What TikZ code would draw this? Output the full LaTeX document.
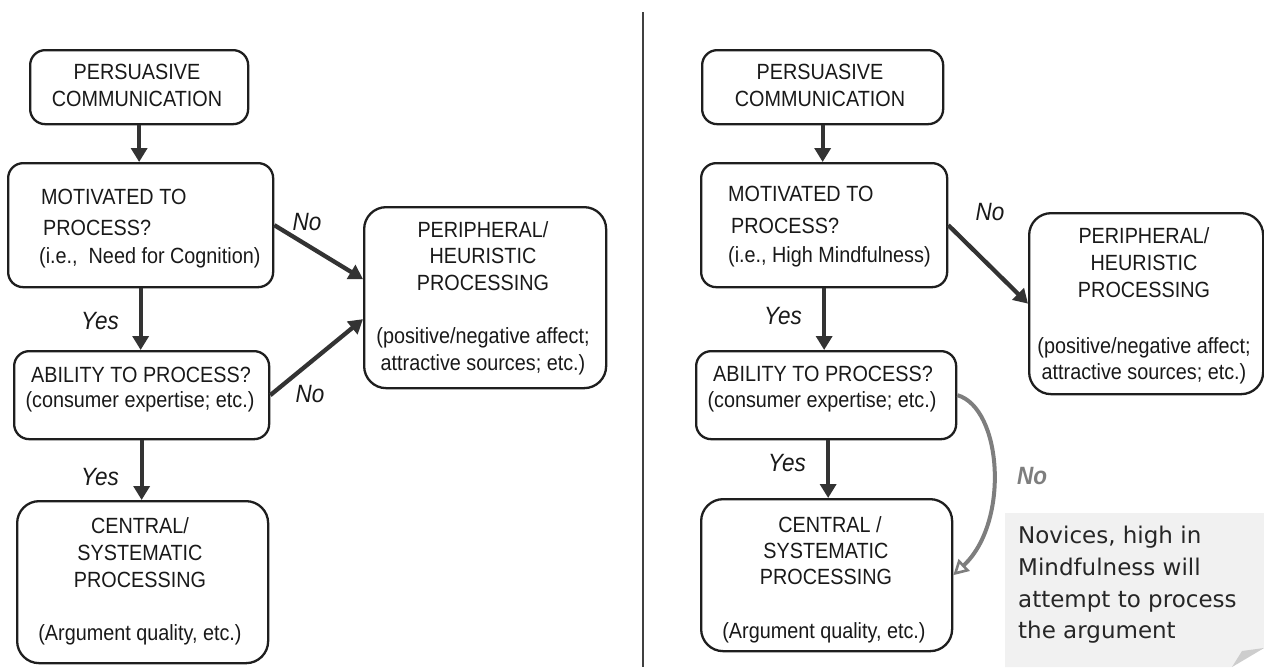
\documentclass[tikz,border=0pt]{standalone}
\usepackage{fontspec}
\setmainfont{Liberation Sans}[FakeStretch=0.9]
\newfontfamily\notefont{DejaVu Sans}
\usetikzlibrary{arrows.meta,calc}
\definecolor{boxline}{HTML}{1E1E1E}
\definecolor{arrcol}{HTML}{333333}
\definecolor{softgray}{HTML}{7E7E7E}
\definecolor{notefill}{HTML}{F1F1F1}
\definecolor{flapfill}{HTML}{CDCDCD}
\tikzset{
  box/.style={draw=boxline, line width=2.3pt, rounded corners=15pt, inner sep=0pt, anchor=north west},
  bigbox/.style={box, rounded corners=22pt},
  txt/.style={font=\fontsize{22}{26}\selectfont, inner sep=0pt, anchor=base, text=black!90},
  ltxt/.style={txt, anchor=base west},
  lab/.style={font=\fontsize{25}{28}\selectfont\itshape, inner sep=0pt, text=black!90},
  arr/.style={draw=arrcol, line width=4.3pt, -{Triangle[length=14pt,width=16pt]}},
  softarr/.style={draw=softgray, line width=4pt, -{Triangle[open,length=15pt,width=16pt,line width=2.6pt]}},
  notetxt/.style={font=\notefont\fontsize{23}{31}\selectfont, inner sep=0pt, anchor=base west, text=black!85}
}
\begin{document}
\begin{tikzpicture}[x=1pt,y=-1pt]
\useasboundingbox (0,0) rectangle (1264,667);
\fill[white] (0,0) rectangle (1264,667);

% divider between the two panels
\draw[draw=black!75, line width=2.6pt] (643,12) coordinate (dtop) -- (643,667) coordinate (dbot);

% ---------------- left panel ----------------
\node[box, minimum width=218pt, minimum height=74pt] (pl) at (29,49) {};
\node[box, minimum width=265pt, minimum height=124pt] (ml) at (7,162) {};
\node[bigbox, minimum width=242pt, minimum height=181pt] (ppl) at (363,206) {};
\node[box, minimum width=255pt, minimum height=88pt] (al) at (13,350) {};
\node[bigbox, minimum width=251pt, minimum height=162pt] (cl) at (16,500) {};

\node[txt] (pl1) at (137,79) {PERSUASIVE};
\node[txt] (pl2) at (137,106) {COMMUNICATION};

\node[ltxt] (ml1) at (41,204) {MOTIVATED TO};
\node[ltxt] (ml2) at (43,235) {PROCESS?};
\node[ltxt] (ml3) at (39,263) {(i.e.,\ \ Need for Cognition)};

\node[txt] (ppl1) at (483,237) {PERIPHERAL/};
\node[txt] (ppl2) at (483,263) {HEURISTIC};
\node[txt] (ppl3) at (483,290) {PROCESSING};
\node[txt] (ppl4) at (483,343) {(positive/negative affect;};
\node[txt] (ppl5) at (483,370) {attractive sources; etc.)};

\node[txt] (al1) at (141,382) {ABILITY TO PROCESS?};
\node[txt] (al2) at (140,407) {(consumer expertise; etc.)};

\node[txt] (cl1) at (140,533) {CENTRAL/};
\node[txt] (cl2) at (140,560) {SYSTEMATIC};
\node[txt] (cl3) at (140,587) {PROCESSING};
\node[txt] (cl4) at (140,640) {(Argument quality, etc.)};

\draw[arr] (pl.south) -- (pl.south |- ml.north);
\draw[arr] (ml.south) -- (ml.south |- al.north);
\draw[arr] (al.south) -- (al.south |- cl.north);
\draw[arr] (ml.east) -- ([yshift=18.5pt]ppl.west);
\draw[arr] (al.east) -- ([yshift=-21.5pt]ppl.west);

\node[lab] (ln1) at (307,222) {No};
\node[lab] (ly1) at (100,321) {Yes};
\node[lab] (ln2) at (310,394) {No};
\node[lab] (ly2) at (100,477) {Yes};

% ---------------- right panel ----------------
\node[box, minimum width=241pt, minimum height=74pt] (pr) at (701,49) {};
\node[box, minimum width=246pt, minimum height=124pt] (mr) at (700,162) {};
\node[bigbox, minimum width=234pt, minimum height=181pt] (ppr) at (1028,212) {};
\node[box, minimum width=260pt, minimum height=88pt] (ar) at (695,350) {};
\node[bigbox, minimum width=251pt, minimum height=152pt] (cr) at (700,498) {};

\node[txt] (pr1) at (820,79) {PERSUASIVE};
\node[txt] (pr2) at (820,106) {COMMUNICATION};

\node[ltxt] (mr1) at (728,201) {MOTIVATED TO};
\node[ltxt] (mr2) at (731,233) {PROCESS?};
\node[ltxt] (mr3) at (728,262) {(i.e., High Mindfulness)};

\node[txt] (ppr1) at (1144,243) {PERIPHERAL/};
\node[txt] (ppr2) at (1144,270) {HEURISTIC};
\node[txt] (ppr3) at (1144,297) {PROCESSING};
\node[txt] (ppr4) at (1144,353) {(positive/negative affect;};
\node[txt] (ppr5) at (1144,379) {attractive sources; etc.)};

\node[txt] (ar1) at (823,381) {ABILITY TO PROCESS?};
\node[txt] (ar2) at (822,407) {(consumer expertise; etc.)};

\node[txt] (cr1) at (830,532) {CENTRAL /};
\node[txt] (cr2) at (826,558) {SYSTEMATIC};
\node[txt] (cr3) at (826,584) {PROCESSING};
\node[txt] (cr4) at (824,638) {(Argument quality, etc.)};

\draw[arr] (pr.south) -- (pr.south |- mr.north);
\draw[arr] (mr.south) -- (mr.south |- ar.north);
\draw[arr] ([xshift=2pt]ar.south) -- ([xshift=2pt]ar.south |- cr.north);
\draw[arr] (mr.east) -- (ppr.west);

\node[lab] (rn1) at (990,212) {No};
\node[lab] (ry1) at (783,316) {Yes};
\node[lab] (ry2) at (787,463) {Yes};

% novice route back into central processing
\draw[softarr] (ar.east) .. controls (1002,408) and (1010,522) .. (cr.east);
\node[lab, font=\fontsize{25}{28}\selectfont\bfseries\itshape, text=softgray] (rn2) at (1032,476) {No};

% note with a curled corner
\fill[notefill] (1005,513) -- (1264,513) -- (1264,648) -- (1232,667) -- (1005,667) -- cycle;
\fill[flapfill] (1264,648) -- (1242,651) -- (1232,667) -- cycle;
\node[notetxt] (n1) at (1018,543) {Novices, high in};
\node[notetxt] (n2) at (1018,575) {Mindfulness will};
\node[notetxt] (n3) at (1018,607) {attempt to process};
\node[notetxt] (n4) at (1018,638) {the argument};
\end{tikzpicture}
\end{document}
